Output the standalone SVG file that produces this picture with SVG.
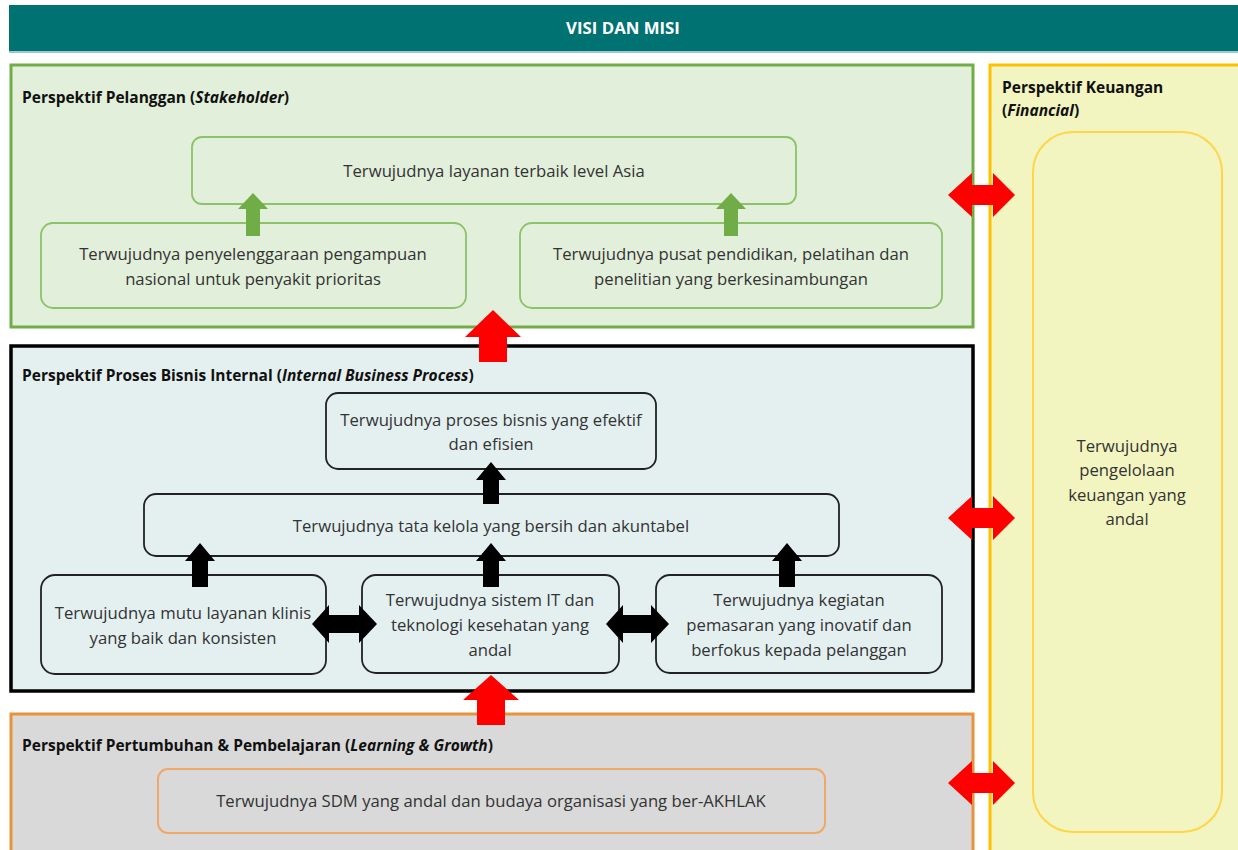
<svg xmlns="http://www.w3.org/2000/svg" width="1238" height="850" viewBox="0 0 1238 850">
<style>
.t{font-family:"Open Sans","Noto Sans","Liberation Sans",sans-serif;font-size:16.7px;fill:#333;text-anchor:middle}
.h{font-family:"Open Sans","Noto Sans","Liberation Sans",sans-serif;font-size:15.5px;font-weight:bold;fill:#111}
.gbox{fill:#e2efda;stroke:#8cc36a;stroke-width:1.8}
.bbox{fill:#e4f0f0;stroke:#222;stroke-width:1.8}
.green{fill:#70ad47}
.red{fill:#ff0000}
.blk{fill:#000}
</style>
<rect width="1238" height="850" fill="#fff"/>
<g id="header">
<rect x="9" y="5" width="1229" height="47" fill="#007272"/>
<rect x="9" y="51" width="1229" height="2" fill="#9cc9c9"/>
<text x="623" y="34" text-anchor="middle" font-family="Open Sans,Noto Sans,Liberation Sans,sans-serif" font-size="16.8" font-weight="bold" fill="#fff">VISI DAN MISI</text>
</g>
<g id="panel-pelanggan">
<rect x="11" y="65" width="962" height="262" fill="#e2efda" stroke="#70ad47" stroke-width="3"/>
<text class="h" x="22" y="103">Perspektif Pelanggan (<tspan font-style="italic">Stakeholder</tspan>)</text>
</g>
<g id="panel-keuangan">
<rect x="990" y="65" width="252" height="790" fill="#f2f5c0" stroke="#ffc000" stroke-width="3"/>
<text class="h" x="1002" y="93">Perspektif Keuangan</text>
<text class="h" x="1002" y="116">(<tspan font-style="italic">Financial</tspan>)</text>
</g>
<g id="panel-internal">
<rect x="11" y="346" width="962" height="345" fill="#e4f0f0" stroke="#000" stroke-width="3.5"/>
<text class="h" x="22" y="381">Perspektif Proses Bisnis Internal (<tspan font-style="italic">Internal Business Process</tspan>)</text>
</g>
<g id="panel-learning">
<rect x="11" y="714" width="962" height="145" fill="#d9d9d9" stroke="#e8923a" stroke-width="3"/>
<text class="h" x="22" y="751">Perspektif Pertumbuhan &amp; Pembelajaran (<tspan font-style="italic">Learning &amp; Growth</tspan>)</text>
</g>
<g id="node-asia">
<rect class="gbox" x="192" y="137" width="604" height="67" rx="10"/>
<text class="t" x="494" y="177">Terwujudnya layanan terbaik level Asia</text>
</g>
<g id="node-pengampuan">
<rect class="gbox" x="41" y="223" width="425" height="85" rx="12"/>
<text class="t" x="253" y="260">Terwujudnya penyelenggaraan pengampuan</text>
<text class="t" x="253" y="285">nasional untuk penyakit prioritas</text>
</g>
<g id="node-pendidikan">
<rect class="gbox" x="520" y="223" width="422" height="85" rx="12"/>
<text class="t" x="731" y="260">Terwujudnya pusat pendidikan, pelatihan dan</text>
<text class="t" x="731" y="285">penelitian yang berkesinambungan</text>
</g>
<g id="node-proses">
<rect class="bbox" x="326" y="393" width="330" height="76" rx="12"/>
<text class="t" x="491" y="426">Terwujudnya proses bisnis yang efektif</text>
<text class="t" x="491" y="450">dan efisien</text>
</g>
<g id="node-tatakelola">
<rect class="bbox" x="144" y="494" width="695" height="62" rx="12"/>
<text class="t" x="491" y="532">Terwujudnya tata kelola yang bersih dan akuntabel</text>
</g>
<g id="node-mutu">
<rect class="bbox" x="41" y="575" width="285" height="99" rx="14"/>
<text class="t" x="183" y="619">Terwujudnya mutu layanan klinis</text>
<text class="t" x="183" y="644">yang baik dan konsisten</text>
</g>
<g id="node-sistemit">
<rect class="bbox" x="362" y="575" width="257" height="98" rx="14"/>
<text class="t" x="490" y="606">Terwujudnya sistem IT dan</text>
<text class="t" x="490" y="631">teknologi kesehatan yang</text>
<text class="t" x="490" y="656">andal</text>
</g>
<g id="node-pemasaran">
<rect class="bbox" x="656" y="575" width="286" height="98" rx="14"/>
<text class="t" x="799" y="606">Terwujudnya kegiatan</text>
<text class="t" x="799" y="631">pemasaran yang inovatif dan</text>
<text class="t" x="799" y="656">berfokus kepada pelanggan</text>
</g>
<g id="node-sdm">
<rect x="158" y="769" width="667" height="64" rx="10" fill="#d9d9d9" stroke="#f0a868" stroke-width="2"/>
<text class="t" x="491" y="807">Terwujudnya SDM yang andal dan budaya organisasi yang ber-AKHLAK</text>
</g>
<g id="node-keuangan">
<rect x="1033" y="132" width="189" height="700" rx="40" fill="#f2f5c0" stroke="#ffd54a" stroke-width="2"/>
<text class="t" x="1127" y="452">Terwujudnya</text>
<text class="t" x="1127" y="476">pengelolaan</text>
<text class="t" x="1127" y="501">keuangan yang</text>
<text class="t" x="1127" y="525">andal</text>
</g>
<g id="connectors">
<polygon class="green" points="253,193 268,209 260,209 260,236 246,236 246,209 238,209"/>
<polygon class="green" points="731,193 746,209 738,209 738,236 724,236 724,209 716,209"/>
<polygon class="red" points="493,310 521,337 507,337 507,362 479,362 479,337 465,337"/>
<polygon class="red" points="491,675 519,700 505,700 505,725 477,725 477,700 463,700"/>
<polygon class="blk" points="491,462 506,480 499,480 499,504 483,504 483,480 476,480"/>
<polygon class="blk" points="200,543 215,561 208,561 208,587 192,587 192,561 185,561"/>
<polygon class="blk" points="491,543 506,561 499,561 499,587 483,587 483,561 476,561"/>
<polygon class="blk" points="787,543 802,561 795,561 795,587 779,587 779,561 772,561"/>
<polygon class="blk" points="312,624 329,605 329,615 359,615 359,605 377,624 359,643 359,633 329,633 329,643"/>
<polygon class="blk" points="606,624 623,605 623,615 651,615 651,605 669,624 651,643 651,633 623,633 623,643"/>
<polygon class="red" points="948,195 972,173 972,185 993,185 993,173 1015,195 993,217 993,205 972,205 972,217"/>
<polygon class="red" points="948,518 972,496 972,508 993,508 993,496 1015,518 993,540 993,528 972,528 972,540"/>
<polygon class="red" points="948,783 972,761 972,773 993,773 993,761 1015,783 993,805 993,793 972,793 972,805"/>
</g>
</svg>
